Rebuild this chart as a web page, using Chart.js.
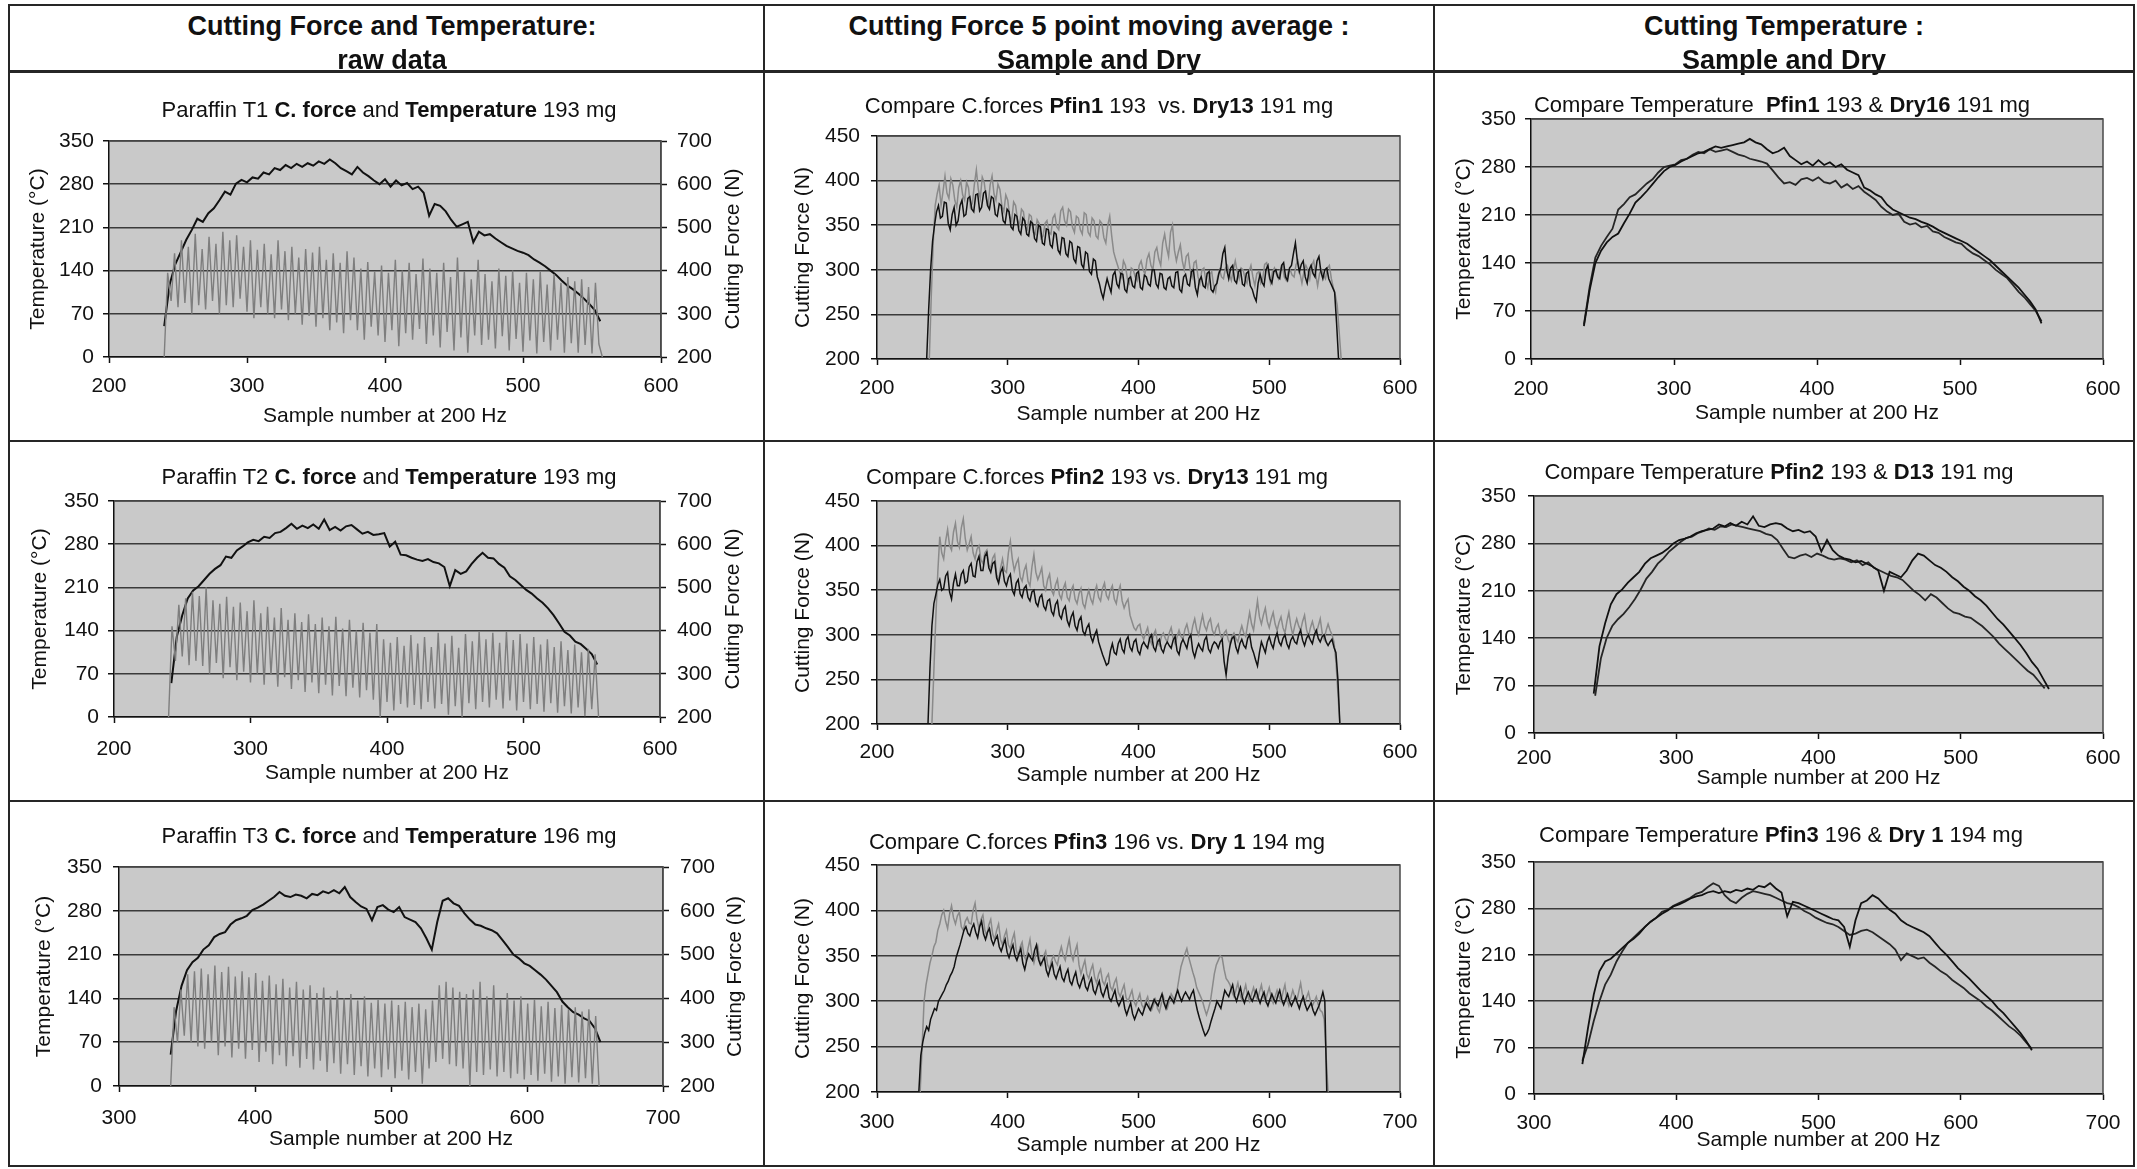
<!DOCTYPE html>
<html><head><meta charset="utf-8">
<script src="https://cdn.jsdelivr.net/npm/chart.js@4.4.1/dist/chart.umd.min.js"></script>
<style>
html,body{margin:0;padding:0;background:#fff;}
#stage{position:relative;width:2137px;height:1169px;overflow:hidden;font-family:'Liberation Sans',Arial,Helvetica,sans-serif;color:#111;}
.txt{position:absolute;transform:translate(-50%,-50%);white-space:nowrap;z-index:4;}
.hdr{font-weight:bold;font-size:27px;}
.ct{font-size:22px;}
.ct b{font-weight:bold;}
.ln{position:absolute;background:#262626;z-index:5;}
</style></head><body>
<div id="stage"></div>
<script>
// ---------------- DATA ----------------
const sampleTicksA = [200, 300, 400, 500, 600];
const sampleTicksB = [300, 400, 500, 600, 700];
const tempTicks = [0, 70, 140, 210, 280, 350];
const rawForceTicks = [200, 300, 400, 500, 600, 700];
const forceTicks = [200, 250, 300, 350, 400, 450];

// Each series: [first sample, last sample] and the values read at evenly spaced samples between them.

// Row 1 — Paraffin T1 raw data
const t1TempRange = [240, 556];
const t1Temp = [50,118,150,170,190,206,224,219,233,241,254,268,263,281,287,283,291,289,299,296,306,303,311,306,313,308,314,310,317,313,320,314,306,301,296,308,299,293,286,280,288,276,286,278,282,272,276,266,229,248,245,236,222,211,215,219,186,203,197,199,192,186,180,176,172,169,165,158,153,147,140,133,124,116,110,103,95,86,76,58];
const t1ForceRange = [240, 557.5];
const t1Force = [200,395,330,440,315,470,325,455,300,485,320,450,310,478,330,462,300,490,320,470,315,482,335,455,305,470,290,448,315,462,300,438,290,470,310,445,285,455,300,430,275,450,295,442,270,455,290,425,262,440,280,418,255,445,285,430,262,405,240,420,270,398,250,412,235,395,262,425,225,400,255,418,240,392,265,428,230,405,250,395,222,418,258,385,215,430,245,398,210,380,250,425,228,392,240,375,220,405,248,388,215,400,242,372,212,395,238,380,208,398,235,368,215,392,240,372,210,385,232,375,210,380,228,362,208,372,230,200];

// Row 1 — Compare C.forces Pfin1 vs Dry13
const pfin1ForceRange = [240, 555];
const pfin1Force = [200,270,330,372,385,395,372,388,405,386,380,402,395,378,370,392,400,384,378,398,392,370,375,396,412,390,380,404,398,380,372,395,405,385,378,396,390,372,365,384,378,360,355,376,372,356,350,368,365,348,345,362,360,342,340,356,352,335,338,352,355,342,340,358,362,348,345,366,370,355,350,368,365,348,342,360,358,345,340,364,362,342,338,358,355,338,335,355,352,336,330,350,360,338,320,312,305,298,292,310,305,290,285,302,300,292,288,305,310,300,295,312,318,305,300,320,325,312,305,330,340,325,315,342,350,322,310,320,328,310,300,315,318,300,292,308,310,292,285,300,302,288,280,295,298,282,275,292,300,292,290,302,305,295,288,300,310,298,290,302,300,290,285,298,305,292,282,296,298,285,290,306,308,295,285,298,302,295,290,300,305,292,288,298,300,294,292,306,310,296,285,298,305,300,290,305,310,295,282,296,300,294,290,302,305,290,280,272,260,230,200];
const dry13aForceRange = [238, 553];
const dry13aForce = [200,255,300,332,350,365,372,358,360,376,375,352,345,362,370,350,355,372,378,360,362,380,382,368,365,384,385,366,370,386,388,372,368,382,380,362,360,374,372,355,352,368,365,348,345,362,360,344,340,358,355,340,338,354,352,335,332,350,348,330,328,346,345,328,325,342,340,322,318,336,335,318,315,332,330,312,308,326,325,306,302,320,318,298,295,312,310,292,285,275,268,280,290,282,275,294,298,284,280,296,295,278,275,290,292,282,280,296,298,280,278,294,292,284,282,300,300,284,280,296,295,280,278,290,292,282,280,297,298,278,275,292,295,284,282,298,300,280,272,288,292,282,280,296,298,278,275,282,285,296,302,318,325,300,290,302,305,288,285,298,300,284,282,296,298,282,278,270,265,285,295,286,282,300,305,290,285,298,300,292,290,305,308,292,288,302,305,318,330,310,298,306,310,292,285,300,305,296,292,310,315,298,290,300,302,290,285,280,275,240,200];

// Row 1 — Compare Temperature Pfin1 & Dry16
const pfin1TempRange = [237, 557];
const pfin1Temp = [48,100,140,158,170,178,183,198,212,228,236,245,255,265,274,280,283,288,292,296,300,302,306,310,308,310,312,314,316,321,316,313,306,300,303,308,296,290,284,288,282,290,283,287,280,284,276,272,268,250,246,240,236,225,218,214,210,206,204,200,197,193,188,184,180,176,172,168,162,156,150,144,136,128,120,112,104,94,84,72,52];
const dry16TempRange = [237, 557];
const dry16Temp = [50,105,148,165,178,190,218,226,236,240,248,256,262,272,280,282,284,290,292,298,302,300,306,302,304,306,302,298,296,292,290,288,285,275,265,256,258,254,262,264,260,265,258,256,260,250,255,248,252,244,238,232,222,215,210,212,200,196,198,192,194,186,184,178,174,170,168,160,154,150,144,138,130,124,118,108,98,90,80,70,55];

// Row 2 — Paraffin T2 raw data
const t2TempRange = [242, 554];
const t2Temp = [55,130,165,192,205,212,222,232,240,246,260,258,270,276,283,287,285,292,290,298,300,306,313,305,310,306,312,305,320,303,308,302,309,311,304,297,300,295,296,298,276,284,263,262,258,255,253,256,251,249,243,212,238,232,236,248,258,266,258,257,248,242,228,222,214,206,200,192,185,176,165,152,138,132,122,118,110,102,85];
const t2ForceRange = [240, 555];
const t2Force = [200,410,330,460,340,475,320,490,330,480,318,500,300,470,325,462,290,478,315,455,285,465,305,445,280,470,300,440,275,455,298,430,270,452,292,425,265,440,285,420,258,438,280,415,255,430,275,410,250,432,272,405,248,425,268,400,245,418,262,395,240,415,200,380,235,372,215,385,230,365,222,390,228,370,218,385,235,362,220,395,230,370,205,388,225,360,200,392,232,375,218,398,235,380,222,395,240,372,220,398,238,378,215,392,235,370,218,385,230,368,212,380,232,362,210,375,225,355,208,368,222,350,202,358,218,345,200];

// Row 2 — Compare C.forces Pfin2 vs Dry13
const pfin2ForceRange = [242, 554];
const pfin2Force = [200,260,320,370,410,392,385,405,418,400,395,415,425,405,398,420,430,408,395,402,410,392,385,396,400,384,380,392,395,378,375,386,390,368,360,375,385,372,370,392,405,385,372,380,385,365,360,372,378,360,355,376,390,370,362,368,375,355,350,362,368,350,345,356,362,345,340,352,358,342,338,350,355,340,335,346,352,335,330,342,350,340,335,348,355,342,338,352,358,344,340,350,355,340,335,348,355,338,330,336,340,322,315,308,305,310,312,300,295,302,308,295,290,300,305,292,288,298,302,296,292,302,308,296,290,298,305,298,295,306,312,302,298,310,318,306,300,312,322,310,305,314,318,305,300,308,312,300,295,302,305,295,290,298,302,296,292,302,310,302,298,312,325,312,305,322,338,320,312,322,330,315,308,318,325,312,305,314,320,308,302,315,325,310,300,310,318,310,305,315,322,306,298,308,315,306,302,310,318,302,295,305,312,305,300,292,270,235,200];
const dry13bForceRange = [239, 554];
const dry13bForce = [200,262,310,335,345,356,362,350,352,366,370,348,340,358,368,355,355,368,372,358,360,376,380,366,365,382,388,372,372,388,392,375,370,380,382,364,358,370,375,360,355,364,368,350,345,358,362,346,342,352,355,342,338,348,350,336,332,342,345,332,328,338,340,326,322,334,338,322,318,328,332,316,310,320,325,310,305,316,320,304,300,308,312,298,292,300,305,292,285,278,272,266,268,282,290,280,278,290,295,284,280,294,298,286,282,292,295,282,278,288,292,288,285,296,300,286,282,292,295,284,280,288,292,288,285,294,298,282,278,290,295,290,285,296,300,282,275,284,290,285,282,294,298,284,280,288,292,290,285,292,295,270,255,275,288,296,298,286,280,290,295,288,285,296,300,286,280,272,265,280,292,286,280,292,298,290,285,296,302,292,288,296,300,290,285,294,298,292,290,300,305,294,288,296,300,294,290,300,305,296,292,298,300,292,288,292,295,286,280,250,200];

// Row 2 — Compare Temperature Pfin2 & D13
const pfin2TempRange = [242, 562];
const pfin2Temp = [58,128,162,190,205,212,222,230,238,250,258,262,266,272,280,285,287,290,295,298,300,302,308,305,310,306,312,308,320,306,304,308,310,308,302,298,300,296,298,290,268,285,270,262,258,256,252,254,250,246,240,210,238,234,230,240,255,265,262,255,248,244,238,230,224,216,210,202,196,188,178,168,160,150,140,130,118,105,95,80,65];
const d13TempRange = [243, 559];
const d13Temp = [55,110,140,158,168,176,186,198,212,228,238,250,258,268,275,282,288,290,295,298,302,300,305,304,308,306,304,302,300,298,294,292,285,272,260,258,262,264,260,265,262,258,256,258,256,252,255,248,252,244,240,236,232,230,226,218,210,204,196,205,200,192,184,178,176,172,170,164,158,150,142,132,124,116,108,100,92,86,76,66];

// Row 3 — Paraffin T3 raw data
const t3TempRange = [338, 654];
const t3Temp = [50,120,160,185,198,205,218,225,238,243,246,258,265,268,272,281,285,290,296,302,310,304,302,306,304,300,307,305,311,308,313,308,318,302,294,287,283,265,286,289,282,278,286,270,266,262,252,236,218,262,296,300,292,288,276,266,258,256,252,249,244,233,222,210,204,196,192,185,178,170,160,150,135,126,118,114,108,104,92,70];
const t3ForceRange = [338, 653];
const t3Force = [200,380,300,420,315,455,300,462,290,468,285,455,300,475,270,460,290,472,265,450,285,462,262,448,282,458,255,440,278,452,250,432,270,445,245,425,268,438,242,420,262,430,238,412,258,425,232,405,252,418,228,400,250,410,225,395,245,405,222,390,240,398,220,388,238,395,218,385,235,392,215,380,232,388,205,375,240,395,255,430,262,438,250,425,245,415,240,410,200,420,232,438,225,405,238,430,222,398,232,412,218,395,228,405,215,388,225,398,212,382,228,392,210,378,222,385,205,375,220,380,208,370,218,375,205,360,200];

// Row 3 — Compare C.forces Pfin3 vs Dry 1
const pfin3ForceRange = [333, 645];
const pfin3Force = [200,250,300,318,330,342,350,360,365,378,385,395,400,388,380,396,405,392,385,394,398,382,378,388,392,386,385,400,408,390,380,390,395,378,372,384,390,374,368,378,385,368,362,372,378,362,358,368,375,356,350,360,365,350,345,358,368,350,342,352,360,345,340,350,355,340,335,345,350,344,340,352,360,350,345,358,368,352,345,355,362,340,330,338,345,330,325,334,340,326,320,330,335,322,318,326,330,316,312,320,325,310,305,312,318,304,300,306,312,300,295,302,308,296,292,300,305,294,290,296,302,292,288,298,305,296,292,300,308,304,300,312,325,338,345,352,358,348,340,332,325,315,310,305,300,292,285,292,300,315,330,340,345,350,348,335,325,322,318,310,305,312,320,308,302,310,318,306,300,308,315,306,302,310,318,306,300,308,315,304,298,305,312,305,300,310,318,302,295,304,312,305,300,310,320,306,298,304,310,300,295,300,305,296,290,288,280,240,200];
const dry1ForceRange = [332, 644];
const dry1Force = [200,240,255,265,272,268,280,286,292,290,300,304,308,312,318,322,328,332,338,348,355,362,370,378,382,375,372,380,385,376,370,382,388,374,368,376,380,368,362,368,372,360,355,362,368,354,348,356,362,350,345,352,358,342,335,345,352,348,345,356,362,346,340,344,348,334,328,336,342,330,325,332,338,326,322,330,335,322,318,326,332,320,315,322,328,316,312,320,325,312,308,316,322,310,305,312,318,304,300,306,312,300,295,300,305,292,285,292,298,286,280,286,292,288,285,292,298,294,290,296,302,298,295,302,308,298,292,300,305,302,298,306,312,305,300,306,310,306,302,308,312,300,290,282,275,268,262,265,270,278,285,292,300,296,292,302,312,308,305,312,318,306,300,308,315,304,298,305,310,304,300,306,312,304,298,305,310,300,295,302,308,302,298,306,312,302,296,302,308,300,295,300,305,298,292,300,305,296,290,294,298,290,285,290,295,302,310,300,200];

// Row 3 — Compare Temperature Pfin3 & Dry 1
const pfin3TempRange = [334, 650];
const pfin3Temp = [45,100,150,185,200,204,212,220,228,234,242,252,260,266,272,277,283,286,290,295,298,300,304,306,303,306,304,308,306,310,308,314,312,318,310,304,268,290,288,284,280,276,272,268,264,262,252,222,262,288,292,300,295,286,278,272,262,256,252,248,244,238,228,218,210,200,190,182,174,165,156,148,140,130,122,112,102,92,80,66];
const dry1TempRange = [334, 650];
const dry1Temp = [50,75,110,140,165,180,200,215,228,236,244,252,260,266,275,278,284,288,292,296,302,305,312,318,314,300,292,288,296,302,306,304,302,300,296,292,288,286,282,276,272,266,262,258,256,252,246,240,242,246,248,244,238,232,226,218,202,212,208,204,206,198,192,185,180,172,166,160,152,146,140,132,126,118,110,102,96,88,78,68];

// ---------------- LAYOUT ----------------
const FONT = "'Liberation Sans', Arial, Helvetica, sans-serif";
const FS = 21, TL = 6, LH = FS * 1.2;
const stage = document.getElementById('stage');

function pts(range, vals) {
  const step = (range[1] - range[0]) / (vals.length - 1);
  return vals.map((v, i) => ({x: range[0] + i * step, y: v}));
}

Chart.register({
  id: 'plotBg',
  beforeDraw(chart) {
    const a = chart.chartArea, ctx = chart.ctx;
    ctx.save();
    ctx.fillStyle = '#c9c9c9';
    ctx.fillRect(a.left, a.top, a.right - a.left, a.bottom - a.top);
    ctx.restore();
  },
  afterDraw(chart, args, opts) {
    const a = chart.chartArea, ctx = chart.ctx;
    ctx.save();
    ctx.strokeStyle = '#4a4a4a'; ctx.lineWidth = 1.5;
    ctx.beginPath(); ctx.moveTo(a.left, a.top); ctx.lineTo(a.right, a.top); ctx.lineTo(a.right, a.bottom); ctx.stroke();
    if (opts && opts.rtText) {
      ctx.fillStyle = '#111'; ctx.font = FS + 'px ' + FONT;
      ctx.textAlign = 'center'; ctx.textBaseline = 'middle';
      ctx.translate(opts.rtX, (a.top + a.bottom) / 2);
      ctx.rotate(-Math.PI / 2);
      ctx.fillText(opts.rtText, 0, 0);
    }
    ctx.restore();
  }
});

function addText(cls, html, x, y) {
  const d = document.createElement('div');
  d.className = 'txt ' + cls; d.innerHTML = html;
  d.style.left = x + 'px'; d.style.top = y + 'px';
  stage.appendChild(d);
}

function build(L, datasets, ax) {
  const [x0, y0, x1, y1] = L.cell;
  const W = x1 - x0, H = y1 - y0;
  const cv = document.createElement('canvas');
  cv.width = W; cv.height = H;
  Object.assign(cv.style, {position: 'absolute', left: x0 + 'px', top: y0 + 'px', width: W + 'px', height: H + 'px'});
  stage.appendChild(cv);
  const pl = L.plot[0] - x0, pt = L.plot[1] - y0, pr = L.plot[2] - x0, pb = L.plot[3] - y0;
  const padL = L.yTitleX - x0 - LH / 2;
  const padB = y1 - L.xTitleY - LH / 2;
  const font = {family: FONT, size: FS};
  const scales = {
    x: {
      type: 'linear', position: 'bottom', min: ax.x[0], max: ax.x[ax.x.length - 1],
      ticks: {stepSize: ax.x[1] - ax.x[0], font, color: '#111', padding: L.xTickY - L.plot[3] - TL - LH / 2, maxRotation: 0, autoSkip: false},
      grid: {drawOnChartArea: false, drawTicks: true, tickLength: TL, tickColor: '#111', tickWidth: 1.5},
      border: {display: true, color: '#111', width: 1.5},
      title: {display: true, text: 'Sample number at 200 Hz', font, color: '#111', padding: 0},
      afterFit: s => { s.height = (H - padB) - pb; }
    },
    y: {
      type: 'linear', position: 'left', min: ax.y[0], max: ax.y[ax.y.length - 1],
      ticks: {stepSize: ax.y[1] - ax.y[0], font, color: '#111', padding: L.plot[0] - L.yTickR - TL},
      grid: {color: '#3a3a3a', lineWidth: 1.5, drawTicks: true, tickLength: TL, tickColor: '#111', tickWidth: 1.5},
      border: {display: true, color: '#111', width: 1.5},
      title: {display: true, text: ax.yTitle, font, color: '#111', padding: 0},
      afterFit: s => { s.width = pl - padL; }
    }
  };
  let padR = W - pr;
  if (ax.y2) {
    padR = 0;
    scales.y2 = {
      type: 'linear', position: 'right', min: ax.y2[0], max: ax.y2[ax.y2.length - 1],
      ticks: {stepSize: ax.y2[1] - ax.y2[0], font, color: '#111', padding: L.rTickL - L.plot[2] - TL},
      grid: {drawOnChartArea: false, drawTicks: true, tickLength: TL, tickColor: '#111', tickWidth: 1.5},
      border: {display: true, color: '#4a4a4a', width: 1.5},
      afterFit: s => { s.width = W - pr; }
    };
  }
  new Chart(cv, {
    type: 'line',
    data: {datasets},
    options: {
      responsive: false, animation: false, devicePixelRatio: 1, events: [],
      layout: {padding: {left: padL, top: pt, right: padR, bottom: padB}},
      scales,
      elements: {point: {radius: 0}, line: {tension: 0}},
      plugins: {
        legend: {display: false}, tooltip: {enabled: false}, title: {display: false},
        plotBg: ax.y2Title ? {rtText: ax.y2Title, rtX: L.rTitleX - x0} : {}
      }
    }
  });
  addText('ct', L.title, L.titleXY[0], L.titleXY[1]);
}

function ds(data, color, width, axis) {
  return {data, borderColor: color, borderWidth: width, pointRadius: 0, fill: false, yAxisID: axis || 'y'};
}

const GRAY = '#7e7e7e', LGRAY = '#8a8a8a', BLACK = '#111111', DARK = '#262626';

// Column headers
addText('hdr', 'Cutting Force and Temperature:', 392, 26);
addText('hdr', 'raw data', 392, 60);
addText('hdr', 'Cutting Force 5 point moving average :', 1099, 26);
addText('hdr', 'Sample and Dry', 1099, 60);
addText('hdr', 'Cutting Temperature :', 1784, 26);
addText('hdr', 'Sample and Dry', 1784, 60);

const rawAxes = (xt) => ({x: xt, y: tempTicks, yTitle: 'Temperature (°C)', y2: rawForceTicks, y2Title: 'Cutting Force (N)'});
const forceAxes = (xt) => ({x: xt, y: forceTicks, yTitle: 'Cutting Force (N)'});
const tempAxes = (xt) => ({x: xt, y: tempTicks, yTitle: 'Temperature (°C)'});

// Row 1
build({cell: [9, 71, 764, 441], plot: [109, 141, 661, 357], titleXY: [389, 110], yTitleX: 38, yTickR: 94, xTickY: 386, xTitleY: 416, rTickL: 677, rTitleX: 733,
  title: 'Paraffin T1 <b>C. force</b> and <b>Temperature</b> 193 mg'},
  [ds(pts(t1ForceRange, t1Force), GRAY, 1.4, 'y2'), ds(pts(t1TempRange, t1Temp), BLACK, 2)], rawAxes(sampleTicksA));
build({cell: [764, 71, 1434, 441], plot: [877, 136, 1400, 359], titleXY: [1099, 106], yTitleX: 803, yTickR: 860, xTickY: 388, xTitleY: 414,
  title: 'Compare C.forces <b>Pfin1</b> 193&nbsp; vs. <b>Dry13</b> 191 mg'},
  [ds(pts(dry13aForceRange, dry13aForce), BLACK, 1.5), ds(pts(pfin1ForceRange, pfin1Force), LGRAY, 1.5)], forceAxes(sampleTicksA));
build({cell: [1434, 71, 2134, 441], plot: [1531, 119, 2103, 359], titleXY: [1782, 105], yTitleX: 1464, yTickR: 1516, xTickY: 389, xTitleY: 413,
  title: 'Compare Temperature&nbsp; <b>Pfin1</b> 193 &amp; <b>Dry16</b> 191 mg'},
  [ds(pts(pfin1TempRange, pfin1Temp), BLACK, 1.8), ds(pts(dry16TempRange, dry16Temp), DARK, 1.8)], tempAxes(sampleTicksA));

// Row 2
build({cell: [9, 441, 764, 801], plot: [114, 501, 660, 717], titleXY: [389, 477], yTitleX: 40, yTickR: 99, xTickY: 749, xTitleY: 773, rTickL: 677, rTitleX: 733,
  title: 'Paraffin T2 <b>C. force</b> and <b>Temperature</b> 193 mg'},
  [ds(pts(t2ForceRange, t2Force), GRAY, 1.4, 'y2'), ds(pts(t2TempRange, t2Temp), BLACK, 2)], rawAxes(sampleTicksA));
build({cell: [764, 441, 1434, 801], plot: [877, 501, 1400, 724], titleXY: [1097, 477], yTitleX: 803, yTickR: 860, xTickY: 752, xTitleY: 775,
  title: 'Compare C.forces <b>Pfin2</b> 193 vs. <b>Dry13</b> 191 mg'},
  [ds(pts(dry13bForceRange, dry13bForce), BLACK, 1.5), ds(pts(pfin2ForceRange, pfin2Force), LGRAY, 1.5)], forceAxes(sampleTicksA));
build({cell: [1434, 441, 2134, 801], plot: [1534, 496, 2103, 733], titleXY: [1779, 472], yTitleX: 1464, yTickR: 1516, xTickY: 758, xTitleY: 778,
  title: 'Compare Temperature <b>Pfin2</b> 193 &amp; <b>D13</b> 191 mg'},
  [ds(pts(pfin2TempRange, pfin2Temp), BLACK, 1.8), ds(pts(d13TempRange, d13Temp), DARK, 1.8)], tempAxes(sampleTicksA));

// Row 3
build({cell: [9, 801, 764, 1166], plot: [119, 867, 663, 1086], titleXY: [389, 836], yTitleX: 44, yTickR: 102, xTickY: 1118, xTitleY: 1139, rTickL: 680, rTitleX: 735,
  title: 'Paraffin T3 <b>C. force</b> and <b>Temperature</b> 196 mg'},
  [ds(pts(t3ForceRange, t3Force), GRAY, 1.4, 'y2'), ds(pts(t3TempRange, t3Temp), BLACK, 2)], rawAxes(sampleTicksB));
build({cell: [764, 801, 1434, 1166], plot: [877, 865, 1400, 1092], titleXY: [1097, 842], yTitleX: 803, yTickR: 860, xTickY: 1122, xTitleY: 1145,
  title: 'Compare C.forces <b>Pfin3</b> 196 vs. <b>Dry 1</b> 194 mg'},
  [ds(pts(dry1ForceRange, dry1Force), BLACK, 1.5), ds(pts(pfin3ForceRange, pfin3Force), LGRAY, 1.5)], forceAxes(sampleTicksB));
build({cell: [1434, 801, 2134, 1166], plot: [1534, 862, 2103, 1094], titleXY: [1781, 835], yTitleX: 1464, yTickR: 1516, xTickY: 1123, xTitleY: 1140,
  title: 'Compare Temperature <b>Pfin3</b> 196 &amp; <b>Dry 1</b> 194 mg'},
  [ds(pts(pfin3TempRange, pfin3Temp), BLACK, 1.8), ds(pts(dry1TempRange, dry1Temp), DARK, 1.8)], tempAxes(sampleTicksB));

// Table grid lines
function line(x, y, w, h) {
  const d = document.createElement('div'); d.className = 'ln';
  Object.assign(d.style, {left: x + 'px', top: y + 'px', width: w + 'px', height: h + 'px'});
  stage.appendChild(d);
}
line(9, 4, 2126, 2);      // top
line(9, 70, 2126, 3);     // header bottom
line(9, 440, 2126, 2);    // row 1/2
line(9, 800, 2126, 2);    // row 2/3
line(9, 1165, 2126, 2);   // bottom
line(8, 4, 2, 1163);      // left
line(763, 4, 2, 1163);    // col 1/2
line(1433, 4, 2, 1163);   // col 2/3
line(2133, 4, 2, 1163);   // right
</script>
</body></html>
